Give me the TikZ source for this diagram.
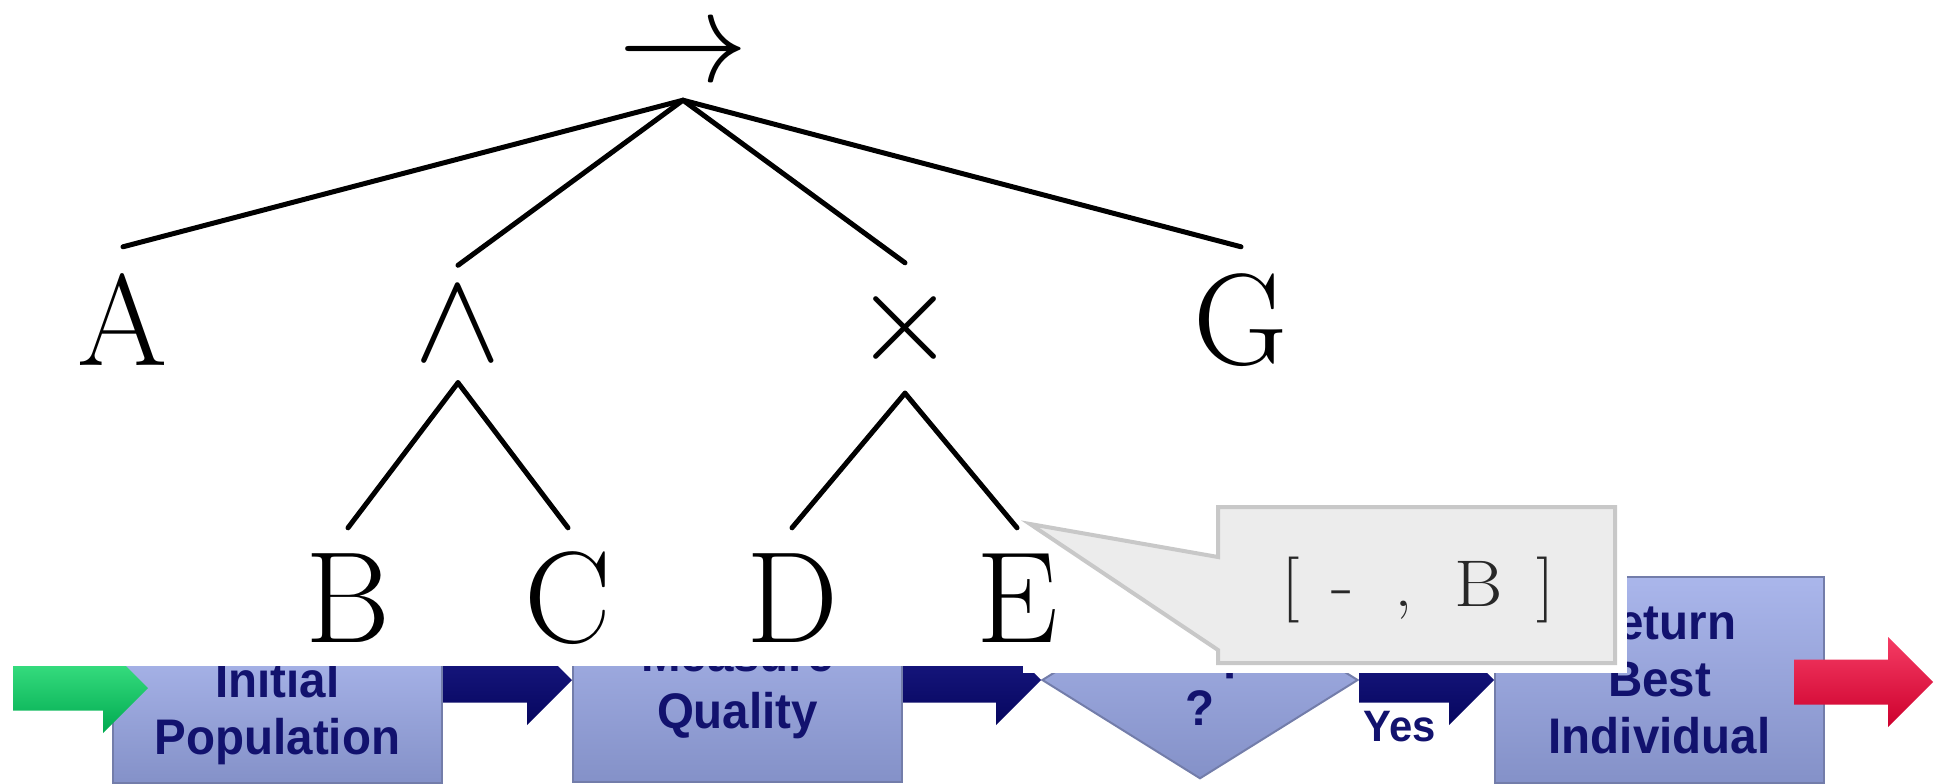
\documentclass[tikz,border=0pt]{standalone}
\usepackage{fontspec}
\usepackage{graphicx}
\usetikzlibrary{shapes.geometric,calc}
\newfontfamily\flowfont{Liberation Sans}[FakeStretch=0.95]
\newcommand\flowtext{\flowfont\bfseries\fontsize{50}{57}\selectfont}
\newcommand\yestext{\flowfont\bfseries\fontsize{44}{50}\selectfont}
\newcommand\treeletter{\fontsize{130}{130}\selectfont}
\newcommand\treesym[1]{\scalebox{13}{$#1$}}
\newcommand\pairfont{\fontsize{66}{66}\selectfont}
\definecolor{flownavy}{RGB}{18,18,110}
\definecolor{boxtop}{RGB}{170,182,235}
\definecolor{boxbot}{RGB}{132,145,200}
\definecolor{boxedge}{RGB}{115,125,170}
\definecolor{bubblefill}{RGB}{236,236,236}
\definecolor{bubbleedge}{RGB}{200,200,200}

\begin{document}
\begin{tikzpicture}[x=1pt,y=-1pt,
    flowbox/.style={rectangle, minimum width=329, inner sep=0, top color=boxtop, bottom color=boxbot,
      draw=boxedge, line width=2, align=center, font=\flowtext, text=flownavy},
    flowdiamond/.style={diamond, minimum width=316, minimum height=196, inner sep=0, top color=boxtop,
      bottom color=boxbot, draw=boxedge, line width=2, align=center, font=\flowtext, text=flownavy},
    blockarrow/.style={to path={($(\tikztostart)+(0,-22.5)$) -- ($(\tikztotarget)+(-45,-22.5)$)
      -- ($(\tikztotarget)+(-45,-45)$) -- (\tikztotarget) -- ($(\tikztotarget)+(-45,45)$)
      -- ($(\tikztotarget)+(-45,22.5)$) -- ($(\tikztostart)+(0,22.5)$) -- cycle}},
    navyarrow/.style={top color={rgb,255:red,28;green,28;blue,135}, bottom color={rgb,255:red,6;green,6;blue,95}},
    greenarrow/.style={top color={rgb,255:red,70;green,235;blue,140}, bottom color={rgb,255:red,0;green,170;blue,80}},
    redarrow/.style={top color={rgb,255:red,245;green,60;blue,100}, bottom color={rgb,255:red,205;green,0;blue,45}},
    tnode/.style={inner sep=0, font=\treeletter, text=black},
    tline/.style={line width=5, line cap=round},
    bubble/.style={fill=bubblefill, draw=bubbleedge, line width=4, line join=miter}]
  \useasboundingbox (0,0) rectangle (1936,784);

  \node[flowbox, minimum height=140] (init) at (277.5,713) {Initial\\Population};
  \node[flowbox, minimum height=188] (measure) at (737.5,688) {Measure\\Quality};
  \node[flowdiamond] (stop) at (1200,680) {Stop\\?};
  \node[flowbox, minimum height=206] (best) at (1659.5,680) {Return\\Best\\Individual};
  \node[inner sep=0, font=\yestext, text=flownavy] (yes) at (1400,727) {Yes};

  \coordinate (go) at (13,688);
  \coordinate (finish) at (1933,682);
  \path[blockarrow, greenarrow] (go) to ++(135,0);
  \path[blockarrow, navyarrow] (init.east |- stop.west) to (measure.west |- stop.west);
  \path[blockarrow, navyarrow] (measure.east |- stop.west) to (stop.west);
  \path[blockarrow, navyarrow] (stop.east) to (best.west |- stop.east);
  \path[blockarrow, redarrow] ($(best.east |- finish)+(-31,0)$) to (finish);

  \fill[white] (0,0) rectangle (1023,666);
  \fill[white] (1023,495) rectangle (1627,673);

  \node[tnode, minimum height=84, font=\normalsize] (root) at (683,58) {\treesym{\rightarrow}};
  \node[tnode, minimum height=146] (a) at (123,320) {A};
  \node[tnode, minimum height=117, font=\normalsize] (and) at (458,324) {\treesym{\wedge}};
  \node[tnode, minimum height=130, font=\normalsize] (times) at (905,328) {\treesym{\times}};
  \node[tnode, minimum height=146] (g) at (1241,320) {G};
  \node[tnode, minimum height=140] (b) at (348,598) {B};
  \node[tnode, minimum height=140] (c) at (568,598) {C};
  \node[tnode, minimum height=140] (d) at (792,598) {D};
  \node[tnode, minimum height=140] (e) at (1017,598) {E};
  \path[tline]
    (root.south) edge (a.north)
                 edge (and.north)
                 edge (times.north)
                 edge (g.north)
    (and.south) edge (b.north)
                edge (c.north)
    (times.south) edge (d.north)
                  edge (e.north);

  \coordinate (tip) at (1030,524);
  \filldraw[bubble] (1218,507) -- (1615,507) -- (1615,663) -- (1218,663) -- (1218,650) -- (tip) -- (1218,557) -- cycle;
  \node[anchor=base, inner sep=0, font=\pairfont, text={rgb,255:red,40;green,40;blue,40}] (pair) at (1418,606)
    {\scalebox{1.12}[1]{[\hspace{29pt}-\hspace{36pt},\hspace{37pt}B\hspace{30pt}]}};
\end{tikzpicture}
\end{document}
